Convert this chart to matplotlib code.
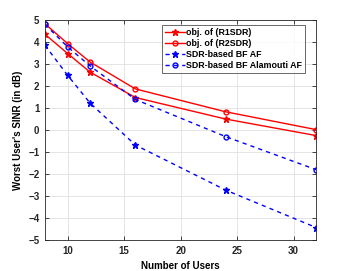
import matplotlib
matplotlib.use("Agg")
import matplotlib.pyplot as plt

plt.rcParams['font.family'] = ['Liberation Sans', 'DejaVu Sans']
plt.rcParams['font.weight'] = 'bold'

users = [8, 10, 12, 16, 24, 32]
r1sdr = [4.35, 3.48, 2.63, 1.48, 0.5, -0.25]
r2sdr = [4.83, 3.93, 3.09, 1.87, 0.83, 0.02]
sdr_af = [3.85, 2.49, 1.22, -0.68, -2.73, -4.43]
sdr_alamouti = [4.8, 3.78, 2.91, 1.39, -0.3, -1.8]

fig = plt.figure(figsize=(3.49, 2.71), dpi=100)
ax = fig.add_axes([0.129, 0.114, 0.777, 0.812])

ax.plot(users, r1sdr, color='red', lw=1.0, marker='*', ms=5, label='obj. of (R1SDR)')
ax.plot(users, r2sdr, color='red', lw=1.0, marker='o', ms=3.5, mfc='none', label='obj. of (R2SDR)')
ax.plot(users, sdr_af, color='blue', lw=1.0, ls='--', dashes=(3, 3), marker='*', ms=5,
        label='SDR-based BF AF')
ax.plot(users, sdr_alamouti, color='blue', lw=1.0, ls='--', dashes=(3, 3), marker='o', ms=3.5,
        mfc='none', label='SDR-based BF Alamouti AF')

ax.set_xlim(8, 32)
ax.set_ylim(-5, 5)
ax.set_xticks([10, 15, 20, 25, 30])
ax.set_yticks(range(-5, 6))
ax.grid(True, color='#e0e0e0', lw=0.6)
ax.tick_params(direction='in', top=True, right=True, labelsize=7, length=3, width=0.6,
               colors='#262626', pad=4)
for s in ax.spines.values():
    s.set_color('#262626')
    s.set_linewidth(0.6)

ax.set_xlabel('Number of Users', fontsize=7, fontweight='bold', labelpad=4)
ax.set_ylabel("Worst User's SINR (in dB)", fontsize=7, fontweight='bold', labelpad=4)

leg = ax.legend(loc='upper right', bbox_to_anchor=(0.959, 0.977), fontsize=6.4, frameon=True,
                fancybox=False, edgecolor='#262626', handlelength=2.2, handletextpad=0.2,
                borderpad=0.3, labelspacing=0.25, borderaxespad=0)
leg.get_frame().set_linewidth(0.6)

fig.savefig('out.png', dpi=100)
